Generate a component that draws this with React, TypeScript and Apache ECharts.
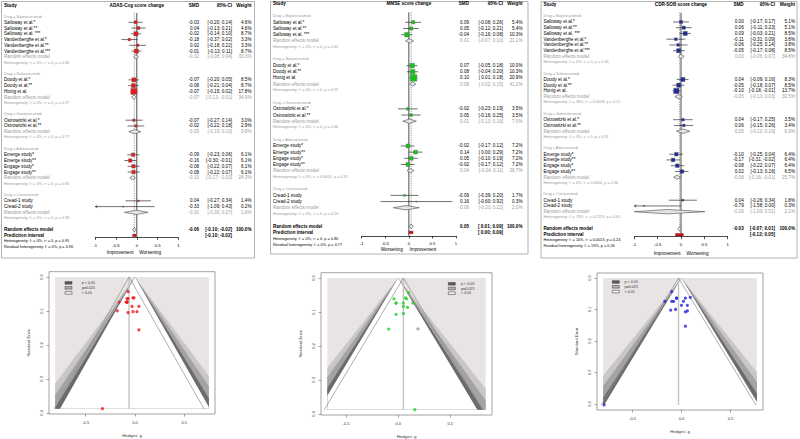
import React, { useEffect, useRef } from "react";
import * as echarts from "echarts";

const FONT = "'Liberation Sans', Arial, Helvetica, sans-serif";
const GRAY = "#9a9a9a";

const drugs = ["Bapineuzumab", "Solanezumab", "Gantenerumab", "Aducanumab", "Crenezumab"];

// ---------- ADAS-Cog ----------
const adasStudy = ["Salloway et al.*", "Salloway et al.**", "Salloway et al. ***", "Vandenberghe et al.*", "Vandenberghe et al.**", "Vandenberghe et al.***", "Doody et al.*", "Doody et al.**", "Honig et al.", "Ostrowitzki et al.*", "Ostrowitzki et al.**", "Emerge study*", "Emerge study**", "Engage study*", "Engage study**", "Cread-1 study", "Cread-2 study"];
const adasDrug = [0, 0, 0, 0, 0, 0, 1, 1, 1, 2, 2, 3, 3, 3, 3, 4, 4];
const adasSmd = [-0.03, 0.04, -0.02, -0.18, 0.02, -0.01, -0.07, -0.08, -0.07, -0.07, -0.02, -0.09, -0.16, -0.08, -0.08, 0.04, -0.33];
const adasLo = [-0.20, -0.13, -0.14, -0.37, -0.18, -0.13, -0.20, -0.21, -0.15, -0.27, -0.22, -0.23, -0.30, -0.22, -0.22, -0.27, -1.09];
const adasHi = [0.14, 0.21, 0.10, 0.02, 0.22, 0.11, 0.05, 0.04, 0.02, 0.14, 0.18, 0.06, -0.01, 0.07, 0.07, 0.34, 0.43];
const adasWeight = [4.6, 4.6, 8.7, 3.3, 3.3, 8.7, 8.5, 8.7, 17.8, 3.0, 2.9, 6.1, 6.1, 6.1, 6.1, 1.4, 0.2];
const adasSubSmd = [-0.02, -0.07, -0.05, -0.10, -0.01];
const adasSubLo = [-0.08, -0.13, -0.19, -0.17, -0.30];
const adasSubHi = [0.04, -0.01, 0.10, -0.03, 0.27];
const adasSubWeight = [33.3, 34.9, 5.9, 24.3, 1.6];
const adasSubI2 = ["0", "0", "0", "0", "0"];
const adasSubTau2 = ["0", "0", "0", "0", "0"];
const adasSubP = ["0.68", "0.97", "0.77", "0.83", "0.38"];
const adasOverall = [-0.06, -0.10, -0.02];
const adasPI = [-0.10, -0.02];
const adasOverallHet = ["0", "0", "0.95"];
const adasResidHet = ["0", "0.96"];

// ---------- MMSE ----------
const mmseStudy = ["Salloway et al.*", "Salloway et al.**", "Salloway et al. ***", "Doody et al.*", "Doody et al.**", "Honig et al.", "Ostrowitzki et al.*", "Ostrowitzki et al.**", "Emerge study*", "Emerge study**", "Engage study*", "Engage study**", "Cread-1 study", "Cread-2 study"];
const mmseDrug = [0, 0, 0, 1, 1, 1, 2, 2, 3, 3, 3, 3, 4, 4];
const mmseSmd = [0.09, 0.05, -0.04, 0.07, 0.08, 0.10, -0.02, 0.05, -0.02, 0.14, 0.05, -0.02, -0.09, 0.16];
const mmseLo = [-0.08, -0.12, -0.16, -0.05, -0.04, 0.01, -0.23, -0.16, -0.17, 0.00, -0.10, -0.17, -0.39, -0.60];
const mmseHi = [0.26, 0.21, 0.08, 0.18, 0.20, 0.18, 0.19, 0.25, 0.12, 0.29, 0.19, 0.12, 0.20, 0.92];
const mmseWeight = [5.4, 5.4, 10.3, 10.0, 10.3, 20.9, 3.5, 3.5, 7.2, 7.2, 7.2, 7.2, 1.7, 0.3];
const mmseSubSmd = [0.01, 0.08, 0.01, 0.04, -0.06];
const mmseSubLo = [-0.07, 0.02, -0.13, -0.04, -0.33];
const mmseSubHi = [0.10, 0.15, 0.16, 0.11, 0.22];
const mmseSubWeight = [21.1, 41.2, 7.0, 28.7, 2.0];
const mmseSubI2 = ["0", "0", "0", "0", "0"];
const mmseSubTau2 = ["0", "0", "0", "0.0005", "0"];
const mmseSubP = ["0.42", "0.91", "0.66", "0.35", "0.54"];
const mmseOverall = [0.05, 0.01, 0.09];
const mmsePI = [0.00, 0.09];
const mmseOverallHet = ["0", "0", "0.80"];
const mmseResidHet = ["0", "0.77"];
const mmseFilledG = [0.19];
const mmseFilledSe = [0.15];

// ---------- CDR-SOB ----------
const cdrStudy = adasStudy;
const cdrDrug = adasDrug;
const cdrSmd = [0.00, 0.06, 0.09, -0.11, -0.06, -0.05, 0.04, -0.05, -0.10, 0.04, 0.06, -0.10, -0.17, -0.08, 0.02, 0.04, -0.79];
const cdrLo = [-0.17, -0.11, -0.03, -0.31, -0.25, -0.17, -0.09, -0.18, -0.18, -0.17, -0.15, -0.25, -0.31, -0.22, -0.13, -0.26, -1.58];
const cdrHi = [0.17, 0.23, 0.21, 0.09, 0.14, 0.08, 0.16, 0.07, -0.01, 0.25, 0.26, 0.04, -0.02, 0.07, 0.16, 0.34, 0.00];
const cdrWeight = [5.1, 5.1, 8.5, 3.8, 3.8, 8.5, 8.3, 8.5, 13.7, 3.5, 3.4, 6.4, 6.4, 6.4, 6.5, 1.8, 0.3];
const cdrSubSmd = [0.00, -0.05, 0.05, -0.08, -0.29];
const cdrSubLo = [-0.06, -0.13, -0.10, -0.16, -1.09];
const cdrSubHi = [0.07, 0.03, 0.19, -0.01, 0.51];
const cdrSubWeight = [34.8, 30.5, 6.9, 25.7, 2.1];
const cdrSubI2 = ["0", "36", "0", "6", "73"];
const cdrSubTau2 = ["0", "0.0018", "0", "0.0004", "0.2519"];
const cdrSubP = ["0.46", "0.21", "0.91", "0.36", "0.05"];
const cdrOverall = [-0.03, -0.07, 0.01];
const cdrPI = [-0.12, 0.05];
const cdrOverallHet = ["10", "0.0013", "0.24"];
const cdrResidHet = ["19", "0.26"];

// ---------- funnel contours ----------
const contourZ = [2.576, 2.33, 2.1, 1.96];
const contourFill = ["#cac6c6", "#a3a3a3", "#6b6b6b", "#ffffff"];
const legendLabels = ["p < 0.05", "p=0.025", "< 0.01"];
const legendFills = ["#5e5e5e", "#b2b2b2", "#f4f4f4"];

type Row = { kind: string; r: number; i?: number; g?: number };

function buildRows(drug: number[]) {
  const rows: Row[] = [{ kind: "vlines", r: 0 }, { kind: "header", r: 0 }];
  let r = 2;
  drugs.forEach((_, g) => {
    rows.push({ kind: "drug", r: r++, g });
    drug.forEach((d, i) => {
      if (d === g) rows.push({ kind: "study", r: r++, i });
    });
    rows.push({ kind: "sub", r: r++, g });
    rows.push({ kind: "het", r: r++, g });
    r++;
  });
  const overallRow = r;
  rows.push({ kind: "overall", r });
  rows.push({ kind: "pi", r: r + 1 });
  rows.push({ kind: "ohet", r: r + 2 });
  rows.push({ kind: "resid", r: r + 3 });
  rows.push({ kind: "labels", r: r + 4 });
  return { rows, overallRow };
}

const forestPanels = [
  {
    title: "ADAS-Cog score change", study: adasStudy, drug: adasDrug, smd: adasSmd, lo: adasLo, hi: adasHi, w: adasWeight,
    sSmd: adasSubSmd, sLo: adasSubLo, sHi: adasSubHi, sW: adasSubWeight, sI2: adasSubI2, sTau: adasSubTau2, sP: adasSubP,
    overall: adasOverall, pi: adasPI, oh: adasOverallHet, rh: adasResidHet, color: "#e81818",
    leftLab: "Improvement", rightLab: "Worsening",
    L: { row0: 5, step: 5.76, axisRow: 40.33, gridLeft: 95.3, gridWidth: 83, studyX: 4, smdX: 199, ciX: 232, wX: 251.5, labRow: 43.05, labA: -0.08, labB: 0.06 },
    frame: [1.5, 1.5, 253, 256.5],
  },
  {
    title: "MMSE score change", study: mmseStudy, drug: mmseDrug, smd: mmseSmd, lo: mmseLo, hi: mmseHi, w: mmseWeight,
    sSmd: mmseSubSmd, sLo: mmseSubLo, sHi: mmseSubHi, sW: mmseSubWeight, sI2: mmseSubI2, sTau: mmseSubTau2, sP: mmseSubP,
    overall: mmseOverall, pi: mmsePI, oh: mmseOverallHet, rh: mmseResidHet, color: "#17c417",
    leftLab: "Worsening", rightLab: "Improvement",
    L: { row0: 3.8, step: 6.18, axisRow: 37.57, gridLeft: 361.7, gridWidth: 94.3, studyX: 273, smdX: 469, ciX: 503, wX: 522.5, labRow: 39.8, labA: -0.13, labB: 0.015 },
    frame: [270.5, 1.5, 257.5, 252.5],
  },
  {
    title: "CDR-SOB score change", study: cdrStudy, drug: cdrDrug, smd: cdrSmd, lo: cdrLo, hi: cdrHi, w: cdrWeight,
    sSmd: cdrSubSmd, sLo: cdrSubLo, sHi: cdrSubHi, sW: cdrSubWeight, sI2: cdrSubI2, sTau: cdrSubTau2, sP: cdrSubP,
    overall: cdrOverall, pi: cdrPI, oh: cdrOverallHet, rh: cdrResidHet, color: "#1d2a9c",
    leftLab: "Improvement", rightLab: "Worsening",
    L: { row0: 4.7, step: 5.75, axisRow: 40.35, gridLeft: 634.3, gridWidth: 93.4, studyX: 543.5, smdX: 743.7, ciX: 775, wX: 795, labRow: 43.2, labA: -0.01, labB: 0.12 },
    frame: [541, 1.5, 256, 256.5],
  },
];

const funnelPanels = [
  { smd: adasSmd, lo: adasLo, hi: adasHi, est: adasOverall[0], color: "#f01414", inner: [-0.81, 0.75],
    grid: { left: 49, top: 271.7, width: 166, height: 142.3 }, leg: { bx: 65, by: 282.9, dy: 5, tx: 81.7 }, fg: [] as number[], fse: [] as number[] },
  { smd: mmseSmd, lo: mmseLo, hi: mmseHi, est: mmseOverall[0], color: "#1fd01f", inner: [-0.68, 0.84],
    grid: { left: 321, top: 272.7, width: 171, height: 142.3 }, leg: { bx: 448.3, by: 283.8, dy: 4.7, tx: 461 }, fg: mmseFilledG, fse: mmseFilledSe },
  { smd: cdrSmd, lo: cdrLo, hi: cdrHi, est: cdrOverall[0], color: "#2424e0", inner: [-0.80, 0.77],
    grid: { left: 597, top: 273, width: 166, height: 137 }, leg: { bx: 612.3, by: 282, dy: 4.8, tx: 624.5 }, fg: [] as number[], fse: [] as number[] },
];

const f2 = (v: number) => v.toFixed(2);
const ciText = (lo: number, hi: number) => `[${lo < 0 ? "" : " "}${f2(lo)}; ${f2(hi)}]`;

function txt(text: string, x: number, y: number, align: string, size: number, fill: string, bold = false) {
  return {
    type: "text", x, y, silent: true,
    style: { text, fill, fontSize: size, fontFamily: FONT, fontWeight: bold ? "bold" : "normal", align, verticalAlign: "middle" },
  };
}

function forestRender(P: any, rows: Row[], overallRow: number) {
  const L = P.L;
  return (params: any, api: any) => {
    const row = rows[params.dataIndex];
    const py = (r: number) => api.coord([0, r])[1];
    const px = (v: number) => api.coord([v, 0])[0];
    const y = py(row.r);
    const ch: any[] = [];
    const FS = 4.6, SM = 3.8;
    const diamond = (m: number, lo: number, hi: number, h: number, fill: string, stroke: string) => {
      const a = px(Math.max(lo, -1)), b = px(Math.min(hi, 1)), c = px(m);
      ch.push({ type: "polygon", shape: { points: [[a, y], [c, y - h], [b, y], [c, y + h]] }, style: { fill, stroke, lineWidth: 0.6 } });
    };
    if (row.kind === "vlines") {
      ch.push({ type: "line", shape: { x1: px(0), y1: py(1.4), x2: px(0), y2: py(L.axisRow) }, style: { stroke: "#000", lineWidth: 0.7 } });
      ch.push({ type: "line", shape: { x1: px(P.overall[0]), y1: py(1.4), x2: px(P.overall[0]), y2: py(overallRow + 0.5) }, style: { stroke: "#555", lineWidth: 0.6, lineDash: [1.2, 1.2] } });
    } else if (row.kind === "header") {
      ch.push(txt("Study", L.studyX, y, "left", FS, "#000", true));
      ch.push(txt(P.title, px(0), y, "center", FS, "#000", true));
      ch.push(txt("SMD", L.smdX, y, "right", FS, "#000", true));
      ch.push(txt("95%-CI", L.ciX, y, "right", FS, "#000", true));
      ch.push(txt("Weight", L.wX, y, "right", FS, "#000", true));
    } else if (row.kind === "drug") {
      ch.push(txt(`Drug = ${drugs[row.g!]}`, L.studyX, y, "left", SM, GRAY));
    } else if (row.kind === "study") {
      const i = row.i!;
      const lo = P.lo[i], hi = P.hi[i], m = P.smd[i];
      ch.push(txt(P.study[i], L.studyX, y, "left", FS, "#000"));
      const x1 = px(Math.max(lo, -1)), x2 = px(Math.min(hi, 1));
      ch.push({ type: "line", shape: { x1, y1: y, x2, y2: y }, style: { stroke: "#111", lineWidth: 0.6 } });
      if (lo < -1) {
        ch.push({ type: "polyline", shape: { points: [[x1 + 2, y - 1.2], [x1, y], [x1 + 2, y + 1.2]] }, style: { stroke: "#111", lineWidth: 0.6, fill: "none" } });
      }
      if (hi > 1) {
        ch.push({ type: "polyline", shape: { points: [[x2 - 2, y - 1.2], [x2, y], [x2 - 2, y + 1.2]] }, style: { stroke: "#111", lineWidth: 0.6, fill: "none" } });
      }
      const s = Math.max(1.2, 1.45 * Math.sqrt(P.w[i]));
      ch.push({ type: "rect", shape: { x: px(m) - s / 2, y: y - s / 2, width: s, height: s }, style: { fill: P.color, stroke: "#6a6a6a", lineWidth: 0.4 } });
      ch.push(txt(f2(m), L.smdX, y, "right", FS, "#000"));
      ch.push(txt(ciText(lo, hi), L.ciX, y, "right", FS, "#000"));
      ch.push(txt(P.w[i].toFixed(1) + "%", L.wX, y, "right", FS, "#000"));
    } else if (row.kind === "sub") {
      const g = row.g!;
      ch.push(txt("Random effects model", L.studyX, y, "left", FS, GRAY));
      diamond(P.sSmd[g], P.sLo[g], P.sHi[g], 2.2, "#e6e6e6", "#4a4a4a");
      ch.push(txt(f2(P.sSmd[g]), L.smdX, y, "right", FS, GRAY));
      ch.push(txt(ciText(P.sLo[g], P.sHi[g]), L.ciX, y, "right", FS, GRAY));
      ch.push(txt(P.sW[g].toFixed(1) + "%", L.wX, y, "right", FS, GRAY));
    } else if (row.kind === "het") {
      const g = row.g!;
      ch.push(txt(`Heterogeneity: I² = ${P.sI2[g]}%, τ² = ${P.sTau[g]}, p = ${P.sP[g]}`, L.studyX, y, "left", SM, GRAY));
    } else if (row.kind === "overall") {
      ch.push(txt("Random effects model", L.studyX, y, "left", FS, "#000", true));
      diamond(P.overall[0], P.overall[1], P.overall[2], 2.2, "#f4f4f4", "#333");
      ch.push(txt(f2(P.overall[0]), L.smdX, y, "right", FS, "#000", true));
      ch.push(txt(ciText(P.overall[1], P.overall[2]), L.ciX, y, "right", FS, "#000", true));
      ch.push(txt("100.0%", L.wX, y, "right", FS, "#000", true));
    } else if (row.kind === "pi") {
      ch.push(txt("Prediction interval", L.studyX, y, "left", FS, "#000", true));
      const a = px(P.pi[0]), b = px(P.pi[1]);
      ch.push({ type: "rect", shape: { x: a, y: y - 1.3, width: Math.max(b - a, 1), height: 2.6 }, style: { fill: "#c0141a", stroke: "#7a0a0a", lineWidth: 0.3 } });
      ch.push(txt(ciText(P.pi[0], P.pi[1]), L.ciX, y, "right", FS, "#000", true));
    } else if (row.kind === "ohet") {
      ch.push(txt(`Heterogeneity: I² = ${P.oh[0]}%, τ² = ${P.oh[1]}, p = ${P.oh[2]}`, L.studyX, y, "left", SM, "#000"));
    } else if (row.kind === "resid") {
      ch.push(txt(`Residual heterogeneity: I² = ${P.rh[0]}%, p = ${P.rh[1]}`, L.studyX, y, "left", SM, "#000"));
    } else if (row.kind === "labels") {
      const ly = py(L.labRow);
      ch.push(txt(P.leftLab, px(L.labA), ly, "right", FS, "#000"));
      ch.push(txt(P.rightLab, px(L.labB), ly, "left", FS, "#000"));
    }
    return { type: "group", children: ch };
  };
}

function funnelRender(F: any, S: number) {
  return (_params: any, api: any) => {
    const c = (x: number, y: number) => api.coord([x, y]);
    const [x0, x1] = F.inner;
    const ch: any[] = [];
    const tl = c(x0, 0), br = c(x1, S);
    ch.push({ type: "rect", shape: { x: tl[0], y: tl[1], width: br[0] - tl[0], height: br[1] - tl[1] }, style: { fill: "#e8e4e4" } });
    contourZ.forEach((z, k) => {
      const pts: number[][] = [[0, 0]];
      if (z * S <= x1) pts.push([z * S, S]);
      else { pts.push([x1, x1 / z]); pts.push([x1, S]); }
      if (z * S <= -x0) pts.push([-z * S, S]);
      else { pts.push([x0, S]); pts.push([x0, -x0 / z]); }
      ch.push({ type: "polygon", shape: { points: pts.map((p) => c(p[0], p[1])) }, style: { fill: contourFill[k] } });
    });
    const a = c(F.est, 0), b = c(F.est, S);
    ch.push({ type: "line", shape: { x1: a[0], y1: a[1], x2: b[0], y2: b[1] }, style: { stroke: "#c4c4c4", lineWidth: 1.4 } });
    [-1, 1].forEach((sg) => {
      const e = c(F.est + sg * 1.96 * S, S);
      ch.push({ type: "line", shape: { x1: a[0], y1: a[1], x2: e[0], y2: e[1] }, style: { stroke: "#8c8c8c", lineWidth: 0.7 } });
    });
    return { type: "group", children: ch };
  };
}

export default function App() {
  const ref = useRef<HTMLDivElement>(null);
  useEffect(() => {
    document.body.style.margin = "0";
    const chart = echarts.init(ref.current!, null, { renderer: "svg" });
    const grid: any[] = [];
    const xAxis: any[] = [];
    const yAxis: any[] = [];
    const series: any[] = [];
    const graphic: any[] = [];

    forestPanels.forEach((P, k) => {
      const L = P.L;
      const { rows, overallRow } = buildRows(P.drug);
      grid.push({ left: L.gridLeft, width: L.gridWidth, top: L.row0, height: L.axisRow * L.step, containLabel: false, outerBoundsMode: "none" });
      xAxis.push({
        gridIndex: k, type: "value", min: -1, max: 1, interval: 0.5, position: "bottom",
        axisLine: { show: true, onZero: false, lineStyle: { color: "#000", width: 0.7 } },
        axisTick: { show: true, length: 2.5, lineStyle: { color: "#000", width: 0.7 } },
        axisLabel: { fontSize: 4.2, color: "#000", margin: 6, fontFamily: FONT },
        splitLine: { show: false },
      });
      yAxis.push({ gridIndex: k, type: "value", min: 0, max: L.axisRow, inverse: true, show: false, axisLine: { onZero: false } });
      series.push({
        type: "custom", coordinateSystem: "cartesian2d", xAxisIndex: k, yAxisIndex: k,
        renderItem: forestRender(P, rows, overallRow), data: rows.map((r) => [0, r.r]), encode: { x: 0, y: 1 },
        clip: false, silent: true, z: 3,
      });
      graphic.push({ type: "rect", shape: { x: P.frame[0], y: P.frame[1], width: P.frame[2], height: P.frame[3] }, style: { fill: "none", stroke: "#a0a0a0", lineWidth: 0.8 }, silent: true });
    });

    funnelPanels.forEach((F, k) => {
      const gi = 3 + k;
      const se = F.lo.map((l, i) => (F.hi[i] - l) / 3.92);
      const S = Math.max(...se);
      grid.push({ ...F.grid, show: true, backgroundColor: "#fff", borderColor: "#8a8a8a", borderWidth: 0.8, containLabel: false, outerBoundsMode: "none" });
      const ticksX = [-0.5, 0, 0.5];
      const ticksY = [0, 0.1, 0.2, 0.3, 0.4];
      xAxis.push({
        gridIndex: gi, type: "value", position: "bottom", min: F.inner[0] - 0.04 * (F.inner[1] - F.inner[0]), max: F.inner[1] + 0.04 * (F.inner[1] - F.inner[0]),
        axisLine: { show: false, onZero: false },
        axisTick: { show: true, customValues: ticksX, length: 2.5, lineStyle: { color: "#666", width: 0.6 } },
        axisLabel: { customValues: ticksX, formatter: (v: number) => v.toFixed(1), fontSize: 4, color: "#333", margin: 6, fontFamily: FONT },
        splitLine: { show: false },
        name: "Hedges' g", nameLocation: "middle", nameGap: 19, nameTextStyle: { fontSize: 4.4, color: "#333", fontFamily: FONT },
      });
      yAxis.push({
        gridIndex: gi, type: "value", position: "left", inverse: true, min: -0.04 * S, max: 1.04 * S,
        axisLine: { show: false, onZero: false },
        axisTick: { show: true, customValues: ticksY, length: 2.5, lineStyle: { color: "#666", width: 0.6 } },
        axisLabel: { customValues: ticksY, formatter: (v: number) => v.toFixed(1), rotate: 90, fontSize: 4, color: "#333", margin: 6, fontFamily: FONT },
        splitLine: { show: false },
        name: "Standard Error", nameLocation: "middle", nameGap: 19, nameRotate: 90, nameTextStyle: { fontSize: 4.2, color: "#333", fontFamily: FONT },
      });
      series.push({
        type: "custom", coordinateSystem: "cartesian2d", xAxisIndex: gi, yAxisIndex: gi,
        renderItem: funnelRender(F, S), data: [[0, 0]], silent: true, z: 1,
      });
      series.push({
        type: "scatter", xAxisIndex: gi, yAxisIndex: gi, data: F.smd.map((g, i) => [g, se[i]]),
        symbol: "circle", symbolSize: 3.2, itemStyle: { color: F.color }, silent: true, z: 3,
      });
      if (F.fg.length) {
        series.push({
          type: "scatter", xAxisIndex: gi, yAxisIndex: gi, data: F.fg.map((g, i) => [g, F.fse[i]]),
          symbol: "circle", symbolSize: 3.2, itemStyle: { color: "#9a9a9a" }, silent: true, z: 3,
        });
      }
      legendLabels.forEach((lab, j) => {
        const cy = F.leg.by + j * F.leg.dy;
        graphic.push({ type: "rect", shape: { x: F.leg.bx, y: cy - 1.3, width: 7, height: 2.6 }, style: { fill: legendFills[j], stroke: "#333", lineWidth: 0.5 }, silent: true, z: 10 });
        graphic.push({ type: "text", x: F.leg.tx, y: cy, style: { text: lab, fontSize: 3.7, fill: "#333", fontFamily: FONT, verticalAlign: "middle" }, silent: true, z: 10 });
      });
    });

    chart.setOption({ animation: false, backgroundColor: "#fff", grid, xAxis, yAxis, series, graphic });
    return () => chart.dispose();
  }, []);
  return <div ref={ref} style={{ width: 800, height: 439 }} />;
}
